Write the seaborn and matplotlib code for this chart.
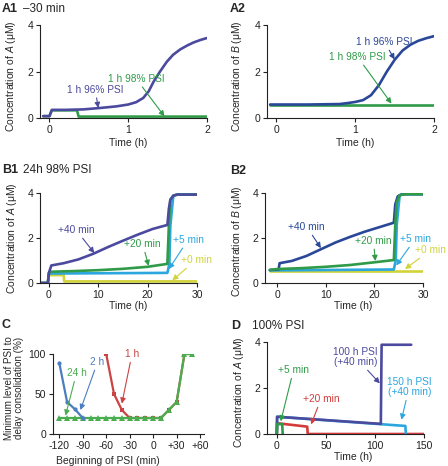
import matplotlib
matplotlib.use("Agg")
import matplotlib.pyplot as plt
import seaborn as sns

# ---- panel A1 / A2 : -30 min, 1 h PSI ----
a1_t96 = [-0.08, 0.0, 0.03, 0.2, 0.43, 0.64, 0.85, 1.0, 1.1, 1.19, 1.26, 1.32, 1.4, 1.49, 1.57, 1.66, 1.75, 1.83, 1.92, 2.0]
a1_96 = [0.08, 0.08, 0.35, 0.35, 0.37, 0.43, 0.5, 0.58, 0.68, 0.86, 1.15, 1.55, 1.98, 2.42, 2.72, 2.95, 3.12, 3.25, 3.36, 3.44]
a1_t98 = [-0.08, 0.0, 0.03, 0.35, 0.37, 2.0]
a1_98 = [0.08, 0.08, 0.33, 0.33, 0.06, 0.06]

a2_t96 = [-0.08, 0.4, 0.8, 0.9, 1.0, 1.1, 1.2, 1.3, 1.4, 1.5, 1.6, 1.7, 1.8, 1.9, 2.0]
a2_96 = [0.58, 0.58, 0.6, 0.64, 0.69, 0.77, 0.98, 1.41, 1.99, 2.5, 2.9, 3.15, 3.32, 3.43, 3.52]
a2_t98 = [-0.08, 2.0]
a2_98 = [0.58, 0.58]

# ---- panel B1 / B2 : 24 h 98% PSI ----
b1_t40 = [-1.5, -0.2, 0.0, 0.5, 3, 6, 9, 12, 15, 18, 21, 24, 24.3, 24.6, 25.2, 26, 30]
b1_40 = [0.0, 0.0, 0.45, 0.78, 0.88, 1.05, 1.3, 1.6, 1.88, 2.15, 2.4, 2.58, 3.3, 3.7, 3.88, 3.93, 3.93]
b1_t20 = [-1.5, -0.2, 0.0, 0.3, 5, 10, 15, 20, 24, 24.3, 24.6, 25.2, 26, 30]
b1_20 = [0.0, 0.0, 0.45, 0.5, 0.53, 0.57, 0.63, 0.72, 0.85, 2.55, 3.7, 3.88, 3.93, 3.93]
b1_t5 = [-1.5, -0.2, 0.0, 24, 24.4, 24.6, 25.2, 26, 30]
b1_5 = [0.0, 0.0, 0.42, 0.45, 0.85, 2.55, 3.88, 3.93, 3.93]
b1_t0 = [-1.5, -0.2, 0.0, 3.0, 3.1, 30]
b1_0 = [0.0, 0.0, 0.35, 0.35, 0.07, 0.07]

b2_t40 = [-1.5, 0.3, 0.5, 3, 6, 9, 12, 15, 18, 21, 24, 24.3, 24.8, 25.5, 26.5, 30]
b2_40 = [0.58, 0.6, 0.88, 0.98, 1.2, 1.5, 1.8, 2.05, 2.28, 2.48, 2.68, 3.5, 3.85, 3.93, 3.95, 3.95]
b2_t20 = [-1.5, 0.0, 5, 10, 15, 20, 24, 24.3, 24.6, 25.2, 26.2, 30]
b2_20 = [0.58, 0.62, 0.66, 0.72, 0.8, 0.92, 1.02, 2.6, 3.6, 3.9, 3.95, 3.95]
b2_t5 = [-1.5, 24.0, 24.4, 24.6, 25.2, 26.2, 30]
b2_5 = [0.56, 0.6, 1.02, 2.6, 3.9, 3.95, 3.95]
b2_t0 = [-1.5, 30]
b2_0 = [0.55, 0.55]

# ---- panel C : minimum PSI level vs start of PSI ----
c_x24 = [-120, -110, -100, -90, -80, -70, -60, -50, -40, -30, -20, -10, 0, 10, 20, 30, 40, 50]
c_24h = [20, 20, 20, 20, 20, 20, 20, 20, 20, 20, 20, 20, 20, 20, 30, 40, 100, 100]
c_x2 = [-120, -110, -100, -90]
c_2h = [89, 40, 31, 20]
c_x1 = [-60, -50, -40, -30, -20, -10, 0, 10, 20, 30, 40, 50]
c_1h = [100, 50, 30, 20, 20, 20, 20, 20, 30, 40, 100, 100]
c_ticks = [-120, -90, -60, -30, 0, 30, 60]
c_ticklabels = ['-120', '-90', '-60', '-30', '0', '+30', '+60']

# ---- panel D : 100% PSI ----
d_t100 = [0, 0.3, 106, 106.8, 137]
d_100 = [0.0, 0.75, 0.44, 3.88, 3.88]
d_t150 = [0, 0.3, 131, 131.5]
d_150 = [0.0, 0.75, 0.35, 0.0]
d_t20 = [0, 0.3, 31, 31.5, 150]
d_20 = [0.0, 0.47, 0.32, 0.0, 0.0]
d_t5 = [0, 0.3, 5.5, 6.0]
d_5 = [0.0, 0.43, 0.43, 0.0]

purple = '#4c4a9e'
navy = '#2a4898'
green = '#2f9b48'
cyan = '#2ba6df'
yellow = '#d2d23a'
red = '#d43c3c'
c_blue = '#4b7dc2'
c_red = '#c94442'
c_green = '#4aad4f'

sns.set_style("ticks")
plt.rcParams['font.family'] = ['Liberation Sans', 'DejaVu Sans']
plt.rcParams['mathtext.fontset'] = 'custom'
plt.rcParams['mathtext.rm'] = 'Liberation Sans'
plt.rcParams['mathtext.it'] = 'Liberation Sans:italic'

W, H = 448, 466
fig = plt.figure(figsize=(W / 100, H / 100), dpi=100)


def make_ax(left, right, top, bottom):
    ax = fig.add_axes([left / W, 1 - bottom / H, (right - left) / W, (bottom - top) / H])
    sns.despine(ax=ax)
    for s in ['left', 'bottom']:
        ax.spines[s].set_linewidth(0.8)
        ax.spines[s].set_color('#222222')
    ax.tick_params(labelsize=7.5, length=3, width=0.8, pad=2, colors='#222222')
    return ax


def line(ax, x, y, color, lw=1.9, **kw):
    sns.lineplot(x=x, y=y, ax=ax, color=color, lw=lw, sort=False, estimator=None,
                 legend=False, solid_joinstyle='round', **kw)


def note(ax, text, xy, xytext, color, fs=7.3):
    ax.annotate(text, xy=xy, xytext=xytext, color=color, fontsize=fs, ha='center', va='center',
                linespacing=1.0, annotation_clip=False,
                arrowprops=dict(arrowstyle='-|>', color=color, lw=0.8, mutation_scale=8,
                                shrinkA=0, shrinkB=0))


def labels(ax, xlab, ylab, xpos, ypos, yfs=7.5):
    ax.set_xlabel(xlab, fontsize=7.5)
    ax.set_ylabel(ylab, fontsize=yfs, linespacing=1.0)
    ax.xaxis.set_label_coords(*xpos)
    ax.yaxis.set_label_coords(*ypos)


def panel(x, y, tag, title=''):
    fig.text(x / W, 1 - y / H, tag, fontsize=9, weight='bold', va='center')
    if title:
        fig.text((x + 21) / W, 1 - y / H, title, fontsize=8.5, va='center')


ylabA = 'Concentration of $\\mathit{A}$ (\u03bcM)'
ylabB = 'Concentration of $\\mathit{B}$ (\u03bcM)'

# A1
ax = make_ax(40, 207, 25, 118)
line(ax, a1_t98, a1_98, green)
line(ax, a1_t96, a1_96, purple)
ax.set_xlim(-0.12, 2)
ax.set_ylim(0, 4)
ax.set_xticks([0, 1, 2])
ax.set_yticks([0, 2, 4])
note(ax, '1 h 96% PSI', (0.62, 0.43), (0.58, 1.22), purple)
note(ax, '1 h 98% PSI', (1.46, 0.07), (1.1, 1.69), green)
labels(ax, 'Time (h)', ylabA, (0.527, -0.22), (-0.13, 0.45))
panel(2, 9, 'A1', '\u201330 min')

# A2
ax = make_ax(267, 434, 25, 118)
line(ax, a2_t98, a2_98, green)
line(ax, a2_t96, a2_96, navy)
ax.set_xlim(-0.12, 2)
ax.set_ylim(0, 4)
ax.set_xticks([0, 1, 2])
ax.set_yticks([0, 2, 4])
note(ax, '1 h 96% PSI', (1.5, 2.52), (1.37, 3.27), navy)
note(ax, '1 h 98% PSI', (1.46, 0.62), (1.03, 2.63), green)
labels(ax, 'Time (h)', ylabB, (0.527, -0.22), (-0.135, 0.45))
panel(230, 9, 'A2')

# B1
ax = make_ax(40, 197, 193, 283)
line(ax, b1_t0, b1_0, yellow)
line(ax, b1_t5, b1_5, cyan)
line(ax, b1_t20, b1_20, green)
line(ax, b1_t40, b1_40, purple)
ax.set_xlim(-1.8, 30)
ax.set_ylim(0, 4)
ax.set_xticks([0, 10, 20, 30])
ax.set_yticks([0, 2, 4])
note(ax, '+40 min', (9.2, 1.33), (5.5, 2.36), purple)
note(ax, '+20 min', (20.2, 0.76), (19.0, 1.73), green)
note(ax, '+5 min', (24.3, 0.62), (28.2, 1.92), cyan)
note(ax, '+0 min', (25.0, 0.12), (29.8, 1.02), yellow)
labels(ax, 'Time (h)', ylabA, (0.56, -0.2), (-0.135, 0.5))
panel(2, 170, 'B1', '24h 98% PSI')

# B2
ax = make_ax(265, 423, 193, 283)
line(ax, b2_t0, b2_0, yellow)
line(ax, b2_t5, b2_5, cyan)
line(ax, b2_t40, b2_40, navy)
line(ax, b2_t20, b2_20, green)
ax.set_xlim(-2.5, 30)
ax.set_ylim(0, 4)
ax.set_xticks([0, 10, 20, 30])
ax.set_yticks([0, 2, 4])
note(ax, '+40 min', (9.0, 1.55), (6.1, 2.49), navy)
note(ax, '+20 min', (20.2, 0.98), (19.8, 1.87), green)
note(ax, '+5 min', (24.5, 0.78), (28.4, 1.96), cyan)
note(ax, '+0 min', (26.3, 0.62), (31.6, 1.47), yellow)
labels(ax, 'Time (h)', ylabB, (0.56, -0.2), (-0.135, 0.46))
panel(230, 171, 'B2')

# C
ax = make_ax(53, 204, 354, 434)
line(ax, c_x1, c_1h, c_red, lw=1.6, marker='s', markersize=3.4, markeredgewidth=0)
line(ax, c_x24, c_24h, c_green, lw=1.6, marker='^', markersize=3.8, markeredgewidth=0)
line(ax, c_x2, c_2h, c_blue, lw=1.6, marker='o', markersize=3, markeredgewidth=0)
ax.set_xlim(-128, 65)
ax.set_ylim(0, 100)
ax.set_xticks(c_ticks)
ax.set_xticklabels(c_ticklabels)
ax.set_yticks([0, 50, 100])
note(ax, '24 h', (-112, 23), (-98, 76), c_green)
note(ax, '2 h', (-93, 30), (-71, 90), c_blue)
note(ax, '1 h', (-40, 38), (-27, 100), c_red)
labels(ax, 'Beginning of PSI (min)', 'Minimum level of PSI to\ndelay consolidation (%)',
       (0.364, -0.28), (-0.19, 0.58), yfs=7.1)
panel(2, 325, 'C')

# D
ax = make_ax(267, 424, 342, 434)
line(ax, d_t20, d_20, red)
line(ax, d_t150, d_150, cyan)
line(ax, d_t100, d_100, purple)
line(ax, d_t5, d_5, green)
ax.set_xlim(-10, 150)
ax.set_ylim(0, 4)
ax.set_xticks([0, 50, 100, 150])
ax.set_yticks([0, 2, 4])
note(ax, '+5 min', (4, 0.55), (17, 2.78), green)
note(ax, '+20 min', (35, 0.42), (45, 1.52), red)
note(ax, '100 h PSI\n(+40 min)', (105, 2.2), (80, 3.35), purple)
note(ax, '150 h PSI\n(+40 min)', (127, 0.62), (135, 2.04), cyan)
labels(ax, 'Time (h)', ylabA, (0.55, -0.2), (-0.135, 0.45))
panel(231, 326, 'D', '100% PSI')

fig.savefig('out.png', dpi=100)
